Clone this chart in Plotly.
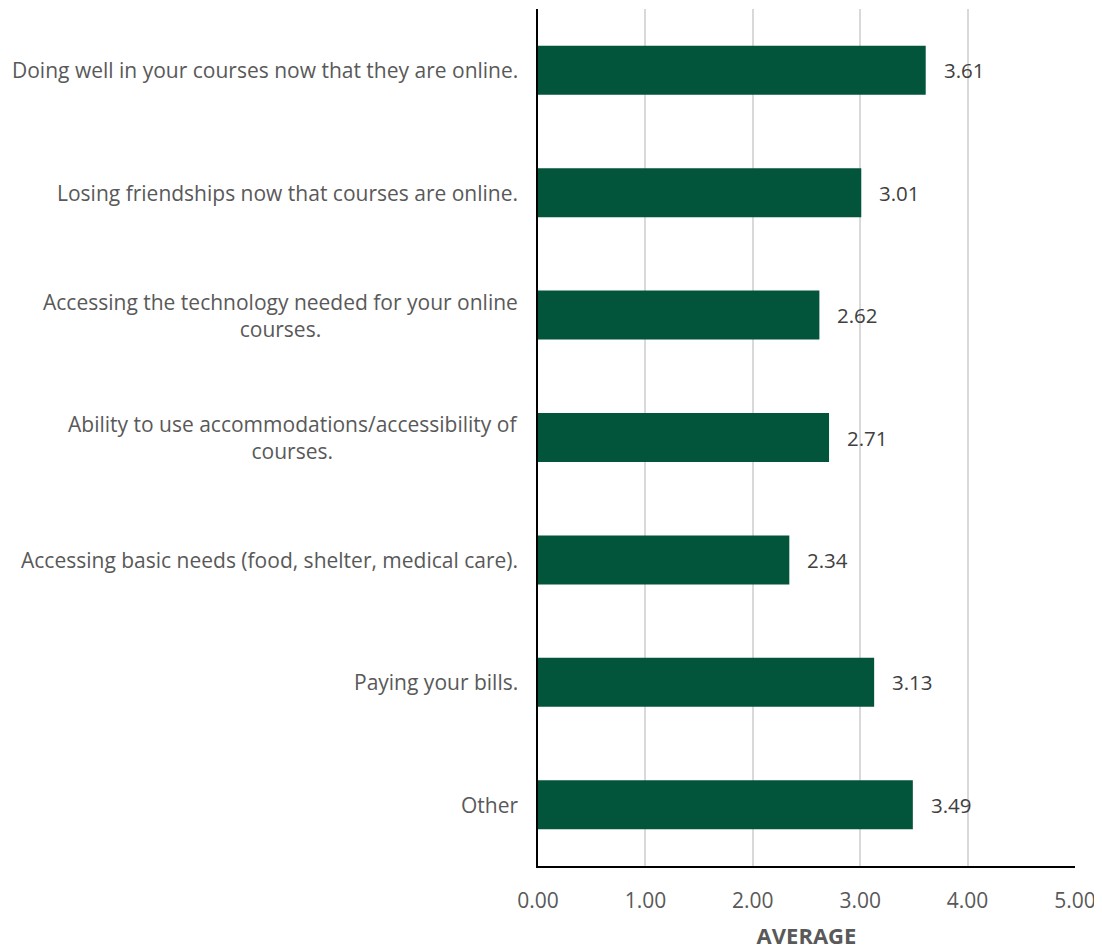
import plotly.graph_objects as go

categories = [
    "Doing well in your courses now that they are online.",
    "Losing friendships now that courses are online.",
    "Accessing the technology needed for your online<br>courses.",
    "Ability to use accommodations/accessibility of<br>courses.",
    "Accessing basic needs (food, shelter, medical care).",
    "Paying your bills.",
    "Other",
]
values = [3.61, 3.01, 2.62, 2.71, 2.34, 3.13, 3.49]
x_ticks = [0, 1, 2, 3, 4, 5]
x_ticklabels = ["0.00", "1.00", "2.00", "3.00", "4.00", "5.00"]

FONT = "'Open Sans', sans-serif"
GRAY = "#595959"
BAR = "#02543B"

ids = list(range(len(categories)))

fig = go.Figure()
fig.add_trace(go.Bar(
    x=values, y=ids, orientation="h",
    marker=dict(color=BAR, line=dict(width=0)),
    width=0.4, hoverinfo="x",
))

annotations = []
for i, (c, v) in enumerate(zip(categories, values)):
    annotations.append(dict(
        x=v, y=i, xref="x", yref="y", text=f"{v:.2f}", showarrow=False,
        xanchor="left", yanchor="middle", xshift=16,
        font=dict(family=FONT, size=20.5, color="#404040"),
    ))
    annotations.append(dict(
        x=0, y=i, xref="paper", yref="y", text=c, showarrow=False,
        xanchor="right", yanchor="middle", xshift=-18, align="center",
        font=dict(family=FONT, size=21, color=GRAY),
    ))

fig.update_layout(
    width=1094, height=942,
    margin=dict(l=530, r=27, t=1, b=84),
    paper_bgcolor="white", plot_bgcolor="white",
    showlegend=False,
    annotations=annotations,
    xaxis=dict(
        range=[0, 5], tickvals=x_ticks, ticktext=x_ticklabels,
        showgrid=True, gridcolor="#d9d9d9", gridwidth=2,
        showline=True, linecolor="black", linewidth=2,
        zeroline=False, ticks="", ticklen=0, ticklabelstandoff=15,
        tickfont=dict(family=FONT, size=21, color=GRAY),
        title=dict(text="<b>AVERAGE</b>", font=dict(family=FONT, size=22, color=GRAY), standoff=16),
    ),
    yaxis=dict(
        range=[len(categories) - 0.5, -0.5],
        showticklabels=False, showgrid=False, zeroline=False,
        showline=True, linecolor="black", linewidth=2,
    ),
)

fig.write_html("out.html")
